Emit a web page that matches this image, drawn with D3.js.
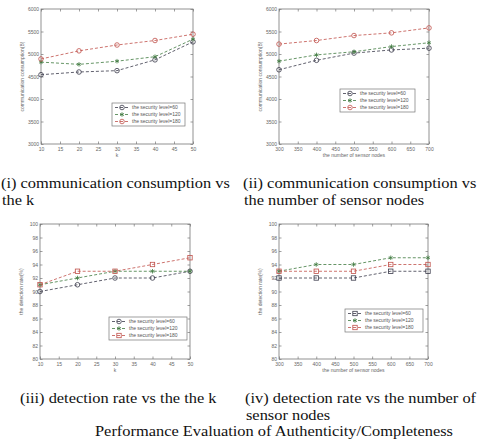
<!DOCTYPE html>
<html>
<head>
<meta charset="utf-8">
<script src="https://cdn.jsdelivr.net/npm/d3@7"></script>
<style>
  html, body { margin: 0; padding: 0; background: #fff; }
</style>
</head>
<body>
<script>
// series labels
const seriesNames = ['the security level=60', 'the security level=120', 'the security level=180'];

// x categories
const kValues = [10, 20, 30, 40, 50];
const nodeValues = [300, 400, 500, 600, 700];
const kTicks = [10, 15, 20, 25, 30, 35, 40, 45, 50];
const nodeTicks = [300, 350, 400, 450, 500, 550, 600, 650, 700];
const commTicks = [3000, 3500, 4000, 4500, 5000, 5500, 6000];
const rateTicks = [80, 82, 84, 86, 88, 90, 92, 94, 96, 98, 100];

// (i) communication consumption vs k
const commK60 = [4540, 4600, 4630, 4870, 5270];
const commK120 = [4820, 4770, 4840, 4940, 5330];
const commK180 = [4890, 5070, 5200, 5300, 5440];

// (ii) communication consumption vs number of nodes
const commN60 = [4650, 4860, 5020, 5090, 5130];
const commN120 = [4840, 4980, 5050, 5165, 5250];
const commN180 = [5220, 5300, 5410, 5470, 5580];

// (iii) detection rate vs k
const rateK60 = [90, 91, 92, 92, 93];
const rateK120 = [91, 92, 93, 93, 93];
const rateK180 = [91, 93, 93, 94, 95];

// (iv) detection rate vs number of nodes
const rateN60 = [92, 92, 92, 93, 93];
const rateN120 = [93, 94, 94, 95, 95];
const rateN180 = [93, 93, 93, 94, 94];

const captions = [
  ['(i) communication consumption vs', 'the k'],
  ['(ii) communication consumption vs', 'the number of sensor nodes'],
  ['(iii) detection rate vs the the k'],
  ['(iv) detection rate vs the number of', 'sensor nodes']
];
const figTitle = 'Performance Evaluation of Authenticity/Completeness';

const colors = ['#3a3a4a', '#3f7a3f', '#c0504a'];

const width = 477, height = 443;
const svg = d3.select('body').append('svg')
  .attr('width', width)
  .attr('height', height)
  .style('background', '#fff');

function panel(opt) {
  const x = d3.scaleLinear().domain(d3.extent(opt.xTicks)).range([opt.left, opt.right]);
  const y = d3.scaleLinear().domain(d3.extent(opt.yTicks)).range([opt.bottom, opt.top]);
  const g = svg.append('g');
  const fmt = d3.format('d');

  // frame
  g.append('rect')
    .attr('x', opt.left).attr('y', opt.top)
    .attr('width', opt.right - opt.left).attr('height', opt.bottom - opt.top)
    .attr('fill', 'none').attr('stroke', '#777').attr('stroke-width', 0.8);

  // inward ticks, matlab-ish
  const tk = 2.5;
  g.append('g').attr('transform', `translate(0,${opt.bottom})`)
    .call(d3.axisBottom(x).tickValues(opt.xTicks).tickFormat(fmt).tickSizeInner(-tk).tickSizeOuter(0).tickPadding(3.5))
    .call(s => s.select('.domain').remove());
  g.append('g').attr('transform', `translate(0,${opt.top})`)
    .call(d3.axisTop(x).tickValues(opt.xTicks).tickSizeInner(-tk).tickSizeOuter(0).tickFormat(''))
    .call(s => s.select('.domain').remove());
  g.append('g').attr('transform', `translate(${opt.left},0)`)
    .call(d3.axisLeft(y).tickValues(opt.yTicks).tickFormat(fmt).tickSizeInner(-tk).tickSizeOuter(0).tickPadding(2))
    .call(s => s.select('.domain').remove());
  g.append('g').attr('transform', `translate(${opt.right},0)`)
    .call(d3.axisRight(y).tickValues(opt.yTicks).tickSizeInner(-tk).tickSizeOuter(0).tickFormat(''))
    .call(s => s.select('.domain').remove());
  g.selectAll('.tick line').attr('stroke', '#777').attr('stroke-width', 0.7);
  g.selectAll('.tick text').attr('fill', '#666').style('font-size', '5px')
    .style('font-family', 'Liberation Sans, sans-serif');

  // axis labels
  g.append('text')
    .attr('x', (opt.left + opt.right) / 2).attr('y', opt.bottom + 13)
    .attr('text-anchor', 'middle').attr('fill', '#666')
    .style('font-size', '5px').style('font-family', 'Liberation Sans, sans-serif')
    .text(opt.xLabel);
  g.append('text')
    .attr('transform', `translate(${opt.left - 17},${(opt.top + opt.bottom) / 2}) rotate(-90)`)
    .attr('text-anchor', 'middle').attr('fill', '#666')
    .style('font-size', '5px').style('font-family', 'Liberation Sans, sans-serif')
    .text(opt.yLabel);

  const line = d3.line().x(d => x(d[0])).y(d => y(d[1]));
  opt.series.forEach((vals, i) => {
    const pts = opt.xs.map((v, j) => [v, vals[j]]);
    g.append('path').datum(pts)
      .attr('fill', 'none').attr('stroke', colors[i])
      .attr('stroke-width', 0.8).attr('stroke-dasharray', '3,2')
      .attr('d', line);
    pts.forEach(p => marker(g, x(p[0]), y(p[1]), opt.markers[i], colors[i]));
  });

  // legend
  const L = opt.legend;
  g.append('rect').attr('x', L.x).attr('y', L.y).attr('width', L.w).attr('height', 23)
    .attr('fill', '#fff').attr('stroke', '#777').attr('stroke-width', 0.7);
  seriesNames.forEach((name, i) => {
    const ly = L.y + 4.5 + i * 7;
    g.append('line').attr('x1', L.x + 3).attr('x2', L.x + 17).attr('y1', ly).attr('y2', ly)
      .attr('stroke', colors[i]).attr('stroke-width', 0.8).attr('stroke-dasharray', '3,2');
    marker(g, L.x + 10, ly, opt.markers[i], colors[i]);
    g.append('text').attr('x', L.x + 20).attr('y', ly + 1.8)
      .attr('fill', '#555').style('font-size', '5px')
      .style('font-family', 'Liberation Sans, sans-serif')
      .text(name);
  });
}

function marker(g, cx, cy, type, color) {
  if (type === 'circle') {
    g.append('circle').attr('cx', cx).attr('cy', cy).attr('r', 2.3)
      .attr('fill', 'none').attr('stroke', color).attr('stroke-width', 0.8);
  } else if (type === 'square') {
    g.append('rect').attr('x', cx - 2.2).attr('y', cy - 2.2).attr('width', 4.4).attr('height', 4.4)
      .attr('fill', 'none').attr('stroke', color).attr('stroke-width', 0.8);
  } else {
    g.append('path').attr('transform', `translate(${cx},${cy})`)
      .attr('d', d3.symbol(d3.symbolAsterisk, 14)())
      .attr('fill', 'none').attr('stroke', color).attr('stroke-width', 0.8);
  }
}

panel({
  left: 41, right: 193, top: 9, bottom: 144,
  xTicks: kTicks, yTicks: commTicks, xs: kValues,
  series: [commK60, commK120, commK180],
  markers: ['circle', 'star', 'circle'],
  xLabel: 'k', yLabel: 'communication consumption(B)',
  legend: { x: 112, y: 103, w: 73 }
});
panel({
  left: 279, right: 429, top: 9, bottom: 144,
  xTicks: nodeTicks, yTicks: commTicks, xs: nodeValues,
  series: [commN60, commN120, commN180],
  markers: ['circle', 'star', 'circle'],
  xLabel: 'the number of sensor nodes', yLabel: 'communication consumption(B)',
  legend: { x: 340, y: 89, w: 75 }
});
panel({
  left: 40, right: 190, top: 224, bottom: 359,
  xTicks: kTicks, yTicks: rateTicks, xs: kValues,
  series: [rateK60, rateK120, rateK180],
  markers: ['circle', 'star', 'square'],
  xLabel: 'k', yLabel: 'the detection rate(%)',
  legend: { x: 109, y: 317, w: 78 }
});
panel({
  left: 279, right: 428, top: 224, bottom: 359,
  xTicks: nodeTicks, yTicks: rateTicks, xs: nodeValues,
  series: [rateN60, rateN120, rateN180],
  markers: ['square', 'star', 'square'],
  xLabel: 'the number of sensor nodes', yLabel: 'the detection rate(%)',
  legend: { x: 345, y: 309, w: 78 }
});

// captions: a 14px serif, stretched sideways to the width of the printed text
const stretch = 1.17;
function caption(t, x, y) {
  const el = svg.append('text')
    .attr('x', x).attr('y', y)
    .style('font-family', 'Liberation Serif, serif').style('font-size', '14px')
    .attr('fill', '#111')
    .text(t);
  const w = el.node().getComputedTextLength();
  el.attr('textLength', w * stretch).attr('lengthAdjust', 'spacingAndGlyphs');
}
const capPos = [[1, 188], [243, 188], [20, 403], [245, 403]];
captions.forEach((lines, i) => {
  lines.forEach((t, j) => caption(t, capPos[i][0] + (j > 0 ? 1 : 0), capPos[i][1] + j * 16.5));
});
caption(figTitle, 95, 436);
</script>
</body>
</html>
